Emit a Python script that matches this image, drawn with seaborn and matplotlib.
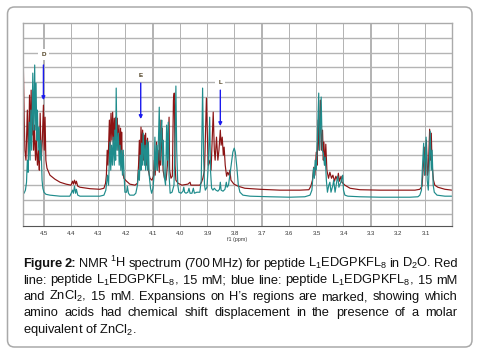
import matplotlib
matplotlib.use("Agg")
import matplotlib.pyplot as plt
import seaborn as sns
from matplotlib.patches import FancyBboxPatch
from matplotlib.transforms import IdentityTransform
from matplotlib.ticker import MultipleLocator

# ---------------- data (chemical shift in ppm, intensity in arbitrary units) ----------------
red_trace = [
    (4.578, 14.0), (4.576, 10.50), (4.573, 7.09), (4.570, 4.36), (4.566, 3.68), (4.561, 7.09),
    (4.557, 3.68), (4.553, 8.11), (4.550, 5.04), (4.547, 8.45), (4.544, 5.39), (4.541, 6.75),
    (4.538, 4.36), (4.535, 6.07), (4.531, 3.68), (4.528, 5.04), (4.524, 3.34), (4.520, 4.36),
    (4.517, 3.00), (4.514, 6.88), (4.510, 3.68), (4.506, 5.04), (4.502, 7.43), (4.499, 4.36),
    (4.496, 6.61), (4.493, 3.68), (4.489, 3.14), (4.478, 2.66), (4.460, 2.39), (4.441, 2.18),
    (4.419, 2.05), (4.401, 1.98), (4.395, 2.25), (4.392, 2.05), (4.388, 2.32), (4.384, 2.05),
    (4.381, 2.25), (4.376, 1.91), (4.368, 1.84), (4.331, 1.74), (4.295, 1.70), (4.280, 1.77),
    (4.274, 2.11), (4.271, 2.66), (4.268, 4.36), (4.265, 3.34), (4.260, 6.41), (4.258, 4.36),
    (4.254, 6.88), (4.251, 5.04), (4.248, 6.95), (4.245, 4.70), (4.242, 6.54), (4.240, 5.04),
    (4.237, 6.61), (4.234, 4.70), (4.231, 6.54), (4.228, 4.36), (4.225, 6.07), (4.222, 4.02),
    (4.219, 5.86), (4.217, 3.68), (4.215, 5.59), (4.212, 3.00), (4.207, 2.45), (4.197, 2.25),
    (4.185, 2.05), (4.166, 1.98), (4.157, 2.11), (4.153, 3.34), (4.150, 5.04), (4.147, 3.00),
    (4.144, 5.93), (4.141, 4.36), (4.138, 5.73), (4.135, 3.68), (4.132, 5.39), (4.129, 3.34),
    (4.127, 5.52), (4.124, 3.34), (4.120, 5.18), (4.117, 3.00), (4.111, 2.45), (4.104, 2.32),
    (4.098, 2.59), (4.095, 3.68), (4.092, 2.66), (4.087, 4.91), (4.084, 3.00), (4.081, 4.36),
    (4.077, 2.86), (4.074, 6.41), (4.072, 3.34), (4.066, 5.86), (4.063, 3.00), (4.058, 2.45),
    (4.052, 2.32), (4.047, 3.34), (4.041, 6.61), (4.039, 3.00), (4.034, 2.45), (4.029, 2.59),
    (4.025, 7.77), (4.022, 8.25), (4.019, 3.34), (4.016, 2.32), (4.008, 2.11), (3.994, 1.98),
    (3.972, 2.05), (3.964, 2.18), (3.961, 1.98), (3.946, 1.98), (3.928, 1.98), (3.922, 2.18),
    (3.917, 2.45), (3.911, 3.00), (3.908, 5.04), (3.904, 7.91), (3.900, 5.04), (3.897, 3.34),
    (3.891, 3.68), (3.887, 3.00), (3.883, 5.04), (3.879, 6.95), (3.875, 4.36), (3.872, 3.68),
    (3.867, 5.25), (3.862, 3.68), (3.858, 4.36), (3.853, 5.73), (3.850, 4.70), (3.846, 5.25),
    (3.842, 4.02), (3.839, 4.57), (3.835, 3.34), (3.830, 2.59), (3.826, 2.86), (3.821, 2.66),
    (3.818, 3.00), (3.814, 2.32), (3.803, 2.05), (3.788, 1.91), (3.763, 1.77), (3.708, 1.70),
    (3.634, 1.64), (3.561, 1.64), (3.528, 1.67), (3.521, 1.91), (3.515, 2.32), (3.510, 3.20),
    (3.506, 2.66), (3.501, 4.23), (3.498, 3.34), (3.494, 6.41), (3.491, 4.36), (3.486, 7.77),
    (3.482, 4.36), (3.478, 5.73), (3.475, 3.68), (3.473, 4.91), (3.469, 3.34), (3.466, 4.77),
    (3.462, 3.00), (3.456, 2.45), (3.451, 2.86), (3.445, 2.45), (3.440, 2.66), (3.434, 2.25),
    (3.429, 2.59), (3.423, 2.32), (3.420, 2.79), (3.416, 2.25), (3.410, 2.59), (3.407, 2.18),
    (3.396, 1.98), (3.377, 1.77), (3.341, 1.67), (3.267, 1.64), (3.194, 1.64), (3.139, 1.64),
    (3.121, 1.70), (3.113, 1.91), (3.108, 3.34), (3.105, 4.57), (3.102, 2.66), (3.097, 5.04),
    (3.093, 2.66), (3.090, 3.00), (3.085, 5.79), (3.082, 3.68), (3.079, 5.52), (3.076, 3.34),
    (3.071, 2.32), (3.066, 1.98), (3.055, 1.84), (3.029, 1.70), (3.003, 1.64),
]

blue_trace = [
    (4.578, 1.43), (4.573, 1.43), (4.568, 1.64), (4.564, 2.18), (4.561, 3.68), (4.558, 2.86),
    (4.554, 6.27), (4.551, 3.68), (4.548, 7.09), (4.545, 4.36), (4.541, 9.61), (4.538, 5.73),
    (4.534, 10.16), (4.532, 5.73), (4.529, 8.93), (4.526, 5.04), (4.524, 7.09), (4.521, 4.36),
    (4.518, 5.93), (4.515, 3.68), (4.511, 5.04), (4.507, 2.32), (4.504, 1.77), (4.500, 1.50),
    (4.493, 1.36), (4.478, 1.30), (4.441, 1.23), (4.405, 1.23), (4.395, 1.64), (4.392, 1.43),
    (4.388, 1.91), (4.384, 1.43), (4.381, 1.70), (4.376, 1.30), (4.368, 1.23), (4.295, 1.23),
    (4.280, 1.30), (4.273, 1.64), (4.267, 2.66), (4.263, 1.98), (4.258, 4.91), (4.255, 3.00),
    (4.252, 4.70), (4.249, 3.34), (4.246, 5.25), (4.242, 3.34), (4.240, 5.73), (4.237, 3.68),
    (4.235, 8.59), (4.232, 4.36), (4.227, 5.52), (4.224, 3.34), (4.221, 4.70), (4.218, 3.00),
    (4.215, 4.36), (4.212, 2.66), (4.209, 4.36), (4.206, 2.66), (4.203, 1.50), (4.197, 1.50),
    (4.194, 1.91), (4.190, 1.43), (4.185, 1.30), (4.170, 1.30), (4.163, 1.43), (4.157, 1.98),
    (4.153, 3.00), (4.150, 2.32), (4.147, 4.02), (4.144, 3.00), (4.142, 4.84), (4.139, 3.34),
    (4.136, 5.52), (4.132, 3.34), (4.129, 4.70), (4.127, 3.00), (4.123, 5.04), (4.120, 3.00),
    (4.117, 4.91), (4.114, 2.66), (4.109, 1.77), (4.105, 1.43), (4.100, 1.77), (4.096, 2.66),
    (4.093, 5.25), (4.090, 3.00), (4.086, 4.70), (4.084, 3.00), (4.080, 5.04), (4.077, 7.29),
    (4.074, 3.68), (4.071, 5.39), (4.068, 6.41), (4.065, 3.34), (4.062, 5.04), (4.059, 2.66),
    (4.054, 1.98), (4.050, 6.07), (4.047, 3.68), (4.044, 6.27), (4.041, 2.66), (4.037, 1.43),
    (4.030, 1.50), (4.023, 1.98), (4.019, 5.04), (4.016, 8.73), (4.013, 4.36), (4.009, 1.98),
    (4.005, 1.50), (3.997, 1.43), (3.990, 1.57), (3.987, 1.84), (3.984, 1.50), (3.979, 1.43),
    (3.972, 1.50), (3.968, 1.77), (3.964, 1.43), (3.957, 1.43), (3.952, 1.77), (3.948, 1.43),
    (3.939, 1.50), (3.928, 1.50), (3.923, 2.32), (3.918, 8.59), (3.914, 3.68), (3.911, 1.98),
    (3.908, 1.64), (3.902, 1.84), (3.897, 3.34), (3.892, 6.61), (3.889, 3.00), (3.885, 1.77),
    (3.880, 1.64), (3.875, 1.77), (3.869, 1.64), (3.862, 1.57), (3.856, 1.70), (3.853, 2.18),
    (3.850, 1.64), (3.843, 1.57), (3.836, 1.70), (3.831, 2.18), (3.828, 1.84), (3.823, 1.98),
    (3.818, 2.66), (3.812, 3.54), (3.807, 4.23), (3.802, 4.50), (3.798, 4.23), (3.792, 3.14),
    (3.787, 1.98), (3.781, 1.50), (3.770, 1.30), (3.744, 1.23), (3.671, 1.19), (3.598, 1.16),
    (3.543, 1.19), (3.524, 1.30), (3.517, 1.64), (3.511, 3.14), (3.508, 2.45), (3.505, 3.68),
    (3.501, 3.00), (3.497, 5.04), (3.492, 8.25), (3.489, 4.36), (3.486, 5.73), (3.483, 7.98),
    (3.479, 4.36), (3.475, 4.16), (3.471, 3.34), (3.468, 3.89), (3.464, 2.32), (3.460, 1.50),
    (3.455, 1.98), (3.451, 2.18), (3.447, 1.50), (3.440, 1.98), (3.437, 2.32), (3.432, 1.50),
    (3.425, 2.32), (3.422, 2.59), (3.418, 1.84), (3.411, 2.18), (3.404, 2.66), (3.401, 1.64),
    (3.396, 1.30), (3.385, 1.23), (3.341, 1.19), (3.267, 1.16), (3.157, 1.16), (3.128, 1.19),
    (3.121, 1.30), (3.115, 1.64), (3.112, 3.00), (3.107, 4.84), (3.104, 2.66), (3.101, 3.68),
    (3.098, 5.25), (3.094, 2.32), (3.090, 1.64), (3.087, 3.00), (3.083, 5.66), (3.079, 3.00),
    (3.076, 4.36), (3.072, 1.98), (3.068, 1.50), (3.058, 1.30), (3.029, 1.23), (3.003, 1.23),
]

tick_values = [4.5, 4.4, 4.3, 4.2, 4.1, 4.0, 3.9, 3.8, 3.7, 3.6, 3.5, 3.4, 3.3, 3.2, 3.1]
tick_labels = ["4.5", "4.4", "4.3", "4.2", "4.1", "4.0", "3.9", "3.8", "3.7", "3.6",
               "3.5", "3.4", "3.3", "3.2", "3.1"]

# residue markers: label, shift (ppm), label height, arrow start, arrow tip
marker_labels = ["D", "E", "L"]
marker_ppm = [4.502, 4.145, 3.853]
marker_label_y = [10.89, 9.48, 9.00]
marker_arrow_start = [10.16, 8.93, 8.45]
marker_arrow_tip = [7.77, 6.48, 6.00]

# ---------------- style ----------------
sns.set_style("white")
plt.rcParams["font.family"] = ["Liberation Sans", "DejaVu Sans"]
plt.rcParams["mathtext.fontset"] = "custom"
plt.rcParams["mathtext.rm"] = "Liberation Sans"
plt.rcParams["mathtext.it"] = "Liberation Sans:italic"
plt.rcParams["mathtext.bf"] = "Liberation Sans:bold"

W, H = 478, 354
fig = plt.figure(figsize=(W / 100, H / 100), dpi=100)
fig.patch.set_facecolor("white")

# outer rounded frame
frame = FancyBboxPatch((7.5, 7.0), 464.5, 340.0,
                       boxstyle="round,pad=0,rounding_size=7",
                       transform=IdentityTransform(), fc="none", ec="#a9a9a9", lw=1.1)
fig.patches.append(frame)

ax = fig.add_axes([22.7 / W, 1 - 226 / H, (452 - 22.7) / W, (226 - 23.3) / H])

red_x = [p for p, _ in red_trace]
red_y = [v for _, v in red_trace]
blue_x = [p for p, _ in blue_trace]
blue_y = [v for _, v in blue_trace]

sns.lineplot(x=red_x, y=red_y, sort=False, estimator=None, color="#8c1414", lw=0.85, ax=ax)
sns.lineplot(x=blue_x, y=blue_y, sort=False, estimator=None, color="#1f8c8c", lw=0.85, ax=ax)

ax.set_xlim(4.578, 3.003)
ax.set_ylim(-0.8, 13.0)

# grid: thin filled bands (about one pixel wide) for the vertical lines
GRID = "#b4b4b4"
half_px = 0.5 * (4.578 - 3.003) / (452 - 22.7)
for tv in tick_values:
    ax.axvspan(tv - 1.2 * half_px, tv + 1.2 * half_px, color=GRID, lw=0, zorder=0.6)
for yv in range(0, 13):
    ax.axhline(yv, color=GRID, lw=1.0, zorder=0.6)

ax.set_xticks(tick_values)
ax.set_xticklabels(tick_labels)
ax.xaxis.set_minor_locator(MultipleLocator(0.05))
ax.set_yticks([])
ax.tick_params(axis="x", which="major", direction="out", length=2.2, width=0.6,
               color="#444444", labelsize=4.3, pad=1.5, labelcolor="#333333")
ax.tick_params(axis="x", which="minor", direction="out", length=1.6, width=0.5, color="#444444")
ax.grid(False)
for side in ["left", "top", "right"]:
    ax.spines[side].set_color("#aaaaaa")
    ax.spines[side].set_linewidth(1.0)
ax.spines["bottom"].set_color("#555555")
ax.spines["bottom"].set_linewidth(0.8)
ax.set_xlabel("f1 (ppm)", fontsize=3.8, labelpad=0.8, color="#333333")
ax.set_ylabel("")

for lab, xp, ly, ys, yt in zip(marker_labels, marker_ppm, marker_label_y,
                               marker_arrow_start, marker_arrow_tip):
    ax.text(xp, ly, lab, fontsize=4.5, fontweight="bold", color="#4a3b1c",
            ha="center", va="center", zorder=4,
            bbox=dict(boxstyle="square,pad=0.5", fc="white", ec="none"))
    ax.annotate("", xy=(xp, yt), xytext=(xp, ys), zorder=4,
                arrowprops=dict(arrowstyle="-|>", color="#1a1aee", lw=1.0,
                                mutation_scale=5, shrinkA=0, shrinkB=0))

# ---------------- caption (justified) ----------------
FS = 9.3
X0, X1 = 23.3, 457.0
renderer = fig.canvas.get_renderer()

caption_lines = [
    (["Figure", "2:", "NMR", "$^1$H", "spectrum", "(700", "MHz)", "for", "peptide",
      "L$_1$EDGPKFL$_8$", "in", "D$_2$O.", "Red"], 267.0, True, 2),
    (["line:", "peptide", "L$_1$EDGPKFL$_8$,", "15", "mM;", "blue", "line:", "peptide",
      "L$_1$EDGPKFL$_8$,", "15", "mM"], 283.5, True, 0),
    (["and", "ZnCl$_2$,", "15", "mM.", "Expansions", "on", "H\u2019s", "regions", "are",
      "marked,", "showing", "which"], 300.0, True, 0),
    (["amino", "acids", "had", "chemical", "shift", "displacement", "in", "the",
      "presence", "of", "a", "molar"], 316.3, True, 0),
    (["equivalent of ZnCl$_2$."], 332.5, False, 0),
]

for words, ypx, justify, nbold in caption_lines:
    texts = []
    for i, w in enumerate(words):
        t = fig.text(0, 1 - ypx / H, w, fontsize=FS,
                     fontweight="bold" if i < nbold else "normal",
                     color="#111111", ha="left", va="baseline")
        texts.append(t)
    widths = [t.get_window_extent(renderer).width for t in texts]
    if justify and len(words) > 1:
        gap = (X1 - X0 - sum(widths)) / (len(words) - 1)
    else:
        gap = 0
    x = X0
    for t, w in zip(texts, widths):
        t.set_x(x / W)
        x += w + gap

fig.savefig("out.png", dpi=100, facecolor="white")
